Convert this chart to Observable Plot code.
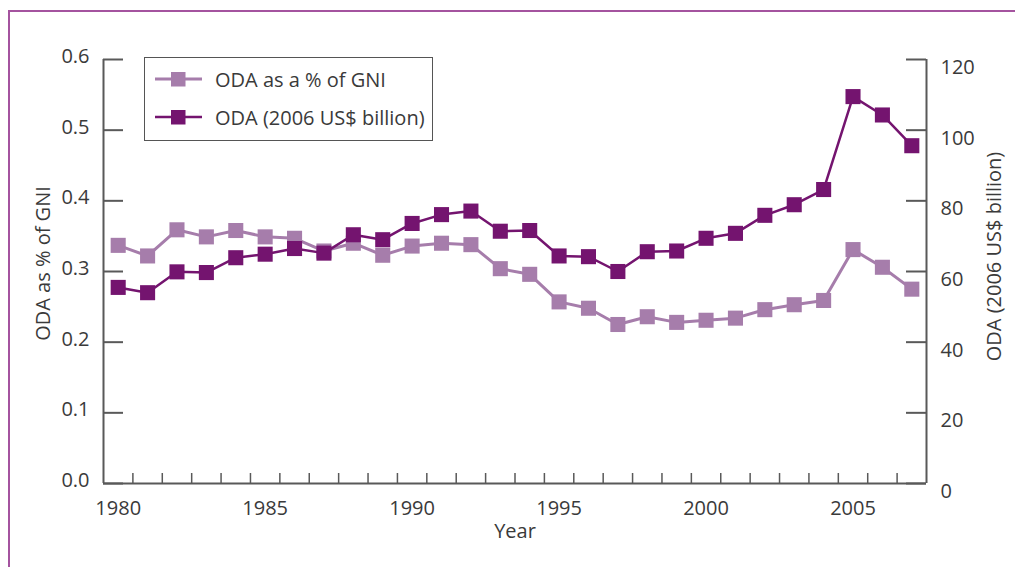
<!DOCTYPE html>
<html>
<head>
<meta charset="utf-8">
<script src="https://cdn.jsdelivr.net/npm/d3@7"></script>
<script src="https://cdn.jsdelivr.net/npm/@observablehq/plot@0.6"></script>
<style>
  html, body { margin: 0; padding: 0; background: #fff; }
  #wrap { position: relative; width: 1015px; height: 567px; overflow: hidden; font-family: "Open Sans", sans-serif; }
  #frame { position: absolute; left: 8px; top: 10px; width: 2000px; height: 2000px; border-top: 2px solid #a4539f; border-left: 2px solid #a4539f; }
  #chart { position: absolute; left: 0; top: 0; }
  #legend { position: absolute; left: 144px; top: 57px; width: 287px; height: 82px; border: 1.5px solid #555; background: #fff; }
  .li { position: absolute; left: 10px; height: 24px; display: flex; align-items: center; font-size: 20px; color: #3a3a3a; white-space: nowrap; }
  .li svg { margin-right: 13px; }
</style>
</head>
<body>
<div id="wrap">
  <div id="frame"></div>
  <div id="chart"></div>
  <div id="legend"></div>
</div>
<script>
const years = [1980,1981,1982,1983,1984,1985,1986,1987,1988,1989,1990,1991,1992,1993,1994,1995,1996,1997,1998,1999,2000,2001,2002,2003,2004,2005,2006,2007];
const gniPct = [0.337,0.322,0.359,0.349,0.358,0.349,0.347,0.329,0.340,0.323,0.336,0.340,0.338,0.304,0.296,0.257,0.248,0.225,0.236,0.228,0.231,0.234,0.246,0.253,0.259,0.331,0.306,0.275];
const odaBn = [55.5,54.0,59.9,59.7,63.9,64.9,66.5,65.2,70.4,69.0,73.6,76.1,77.1,71.4,71.6,64.4,64.2,60.0,65.6,65.8,69.4,70.8,75.9,78.9,83.2,109.5,104.3,95.6];
const leftTicks = [0, 0.1, 0.2, 0.3, 0.4, 0.5, 0.6];
const rightTicks = [0, 20, 40, 60, 80, 100, 120];
const xLabelYears = [1980, 1985, 1990, 1995, 2000, 2005];
const seriesNames = ["ODA as a % of GNI", "ODA (2006 US$ billion)"];
const colors = ["#a67dab", "#74146f"];
const ratio = 200; // right axis units per left axis unit

const gniData = years.map((y, i) => ({year: y, v: gniPct[i]}));
const odaData = years.map((y, i) => ({year: y, v: odaBn[i] / ratio}));
const boundaries = years.slice(1).map(y => y - 0.5);

const W = 1015, H = 567, mL = 103, mR = 89, mT = 59, mB = 84;
const plotW = W - mL - mR, plotH = H - mT - mB;
const axisColor = "#595959";
const textColor = "#3a3a3a";
const fs = 20;

const chart = Plot.plot({
  width: W, height: H,
  marginLeft: mL, marginRight: mR, marginTop: mT, marginBottom: mB,
  style: {fontFamily: "Open Sans, sans-serif", fontSize: fs + "px", color: textColor, background: "transparent"},
  x: {domain: [years[0] - 0.5, years[years.length - 1] + 0.5]},
  y: {domain: [0, 0.6]},
  marks: [
    // axis lines
    Plot.ruleX([years[0] - 0.5, years[years.length - 1] + 0.5], {stroke: axisColor, strokeWidth: 2}),
    Plot.ruleY([0], {stroke: axisColor, strokeWidth: 2}),
    // inward tick marks
    Plot.tickY(leftTicks, {y: d => d, stroke: axisColor, strokeWidth: 2, insetRight: plotW - 20}),
    Plot.tickY(rightTicks, {y: d => d / ratio, stroke: axisColor, strokeWidth: 2, insetLeft: plotW - 20}),
    Plot.tickX(boundaries, {x: d => d, stroke: axisColor, strokeWidth: 1.5, insetTop: plotH - 10}),
    // axes labels
    Plot.axisY({ticks: leftTicks, tickSize: 0, tickPadding: 14, tickFormat: d => d.toFixed(1), dy: -3, label: null, fill: textColor, fontSize: fs}),
    Plot.axisY({anchor: "right", ticks: rightTicks.map(d => d / ratio), tickSize: 0, tickPadding: 14, tickFormat: d => String(Math.round(d * ratio)), dy: 8, label: null, fill: textColor, fontSize: fs}),
    Plot.axisX({ticks: xLabelYears, tickSize: 0, tickPadding: 17, tickFormat: d => String(d), label: null, fill: textColor, fontSize: fs}),
    // axis titles
    Plot.text(["ODA as % of GNI"], {frameAnchor: "left", textAnchor: "middle", lineAnchor: "middle", dx: -60, dy: -8, rotate: -90, fill: textColor, fontSize: fs}),
    Plot.text(["ODA (2006 US$ billion)"], {frameAnchor: "right", textAnchor: "middle", lineAnchor: "middle", dx: 68, dy: -15, rotate: -90, fill: textColor, fontSize: fs}),
    Plot.text(["Year"], {frameAnchor: "bottom", textAnchor: "middle", lineAnchor: "middle", dy: 48, fill: textColor, fontSize: fs}),
    // series
    Plot.line(gniData, {x: "year", y: "v", stroke: colors[0], strokeWidth: 3}),
    Plot.dot(gniData, {x: "year", y: "v", symbol: "square", r: 8.5, fill: colors[0], stroke: "none"}),
    Plot.line(odaData, {x: "year", y: "v", stroke: colors[1], strokeWidth: 2.5}),
    Plot.dot(odaData, {x: "year", y: "v", symbol: "square", r: 8.5, fill: colors[1], stroke: "none"})
  ]
});
document.getElementById("chart").appendChild(chart);

// legend
const legend = document.getElementById("legend");
seriesNames.forEach((name, i) => {
  const item = document.createElement("div");
  item.className = "li";
  item.style.top = (i === 0 ? 9 : 47) + "px";
  item.innerHTML = `<svg width="47" height="20"><line x1="0" x2="47" y1="10" y2="10" stroke="${colors[i]}" stroke-width="${i === 0 ? 3 : 2.5}"/><rect x="16" y="3" width="14.5" height="14.5" fill="${colors[i]}"/></svg><span>${name}</span>`;
  legend.appendChild(item);
});
</script>
</body>
</html>
